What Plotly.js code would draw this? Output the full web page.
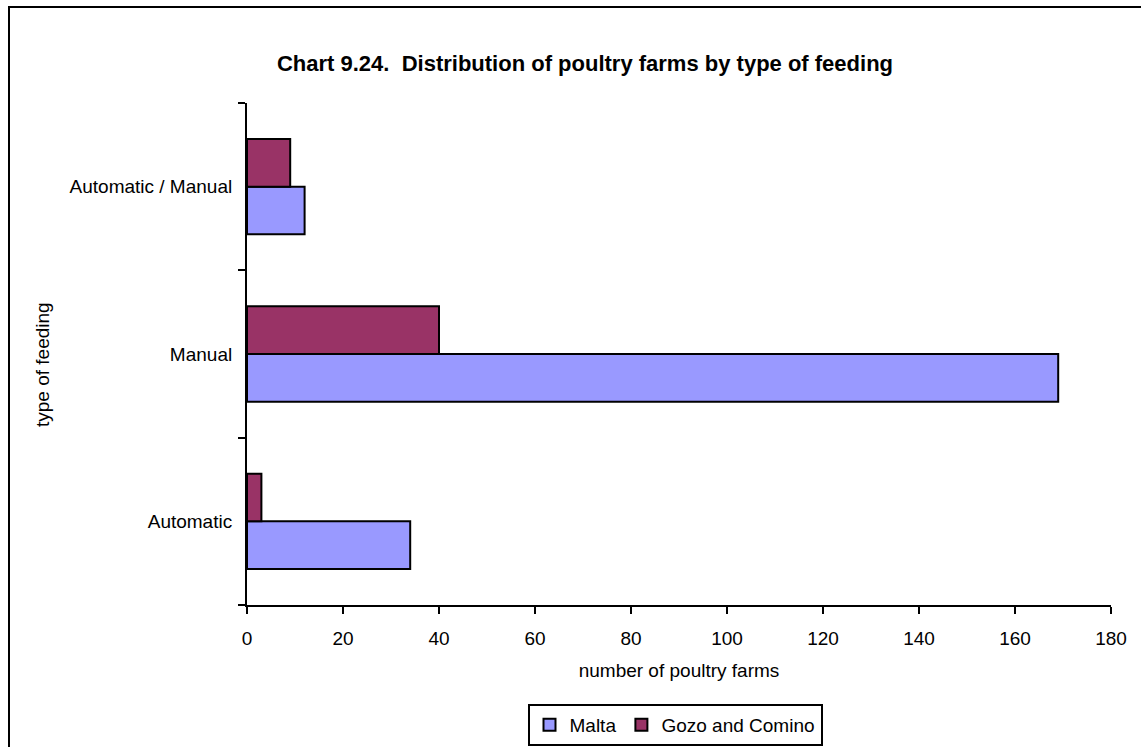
<!DOCTYPE html>
<html>
<head>
<meta charset="utf-8">
<script src="https://cdn.plot.ly/plotly-3.0.1.min.js"></script>
<style>
  html, body { margin: 0; padding: 0; background: #fff; overflow: hidden; }
  #chart { width: 1141px; height: 747px; }
  #frame { position: absolute; left: 8px; top: 6px; width: 1200px; height: 800px;
           border: 2px solid #000; pointer-events: none; box-sizing: border-box; }
</style>
</head>
<body>
<div id="chart"></div>
<div id="frame"></div>
<script>
const categories = ["Automatic", "Manual", "Automatic / Manual"];
const maltaValues = [34, 169, 12];
const gozoValues = [3, 40, 9];
const xTickValues = [0, 20, 40, 60, 80, 100, 120, 140, 160, 180];

const FONT = "Liberation Sans, Arial, sans-serif";
const FS = 19;

const traces = [
  {
    type: "bar", orientation: "h", name: "Malta",
    y: categories, x: maltaValues,
    marker: { color: "#9999FF", line: { color: "#000", width: 2 } }
  },
  {
    type: "bar", orientation: "h", name: "Gozo and Comino",
    y: categories, x: gozoValues,
    marker: { color: "#993366", line: { color: "#000", width: 2 } }
  }
];

const layout = {
  width: 1141, height: 747,
  margin: { l: 247, r: 30, t: 103, b: 142 },
  paper_bgcolor: "#fff", plot_bgcolor: "#fff",
  font: { family: FONT, color: "#000", size: FS },
  barmode: "group",
  bargap: 0.43, bargroupgap: 0,
  showlegend: true,
  title: {
    text: "<b>Chart 9.24.  Distribution of poultry farms by type of feeding</b>",
    font: { family: FONT, size: 22, color: "#000" },
    x: 585 / 1141, xanchor: "center", xref: "container",
    y: 1 - 63 / 747, yanchor: "middle", yref: "container"
  },
  xaxis: {
    range: [0, 180], tickvals: xTickValues, ticktext: xTickValues.map(String),
    showgrid: false, zeroline: false,
    showline: true, linecolor: "#000", linewidth: 2,
    ticks: "outside", ticklen: 7, tickwidth: 2, tickcolor: "#000",
    ticklabelstandoff: 8,
    tickfont: { family: FONT, size: FS, color: "#000" },
    title: { text: "number of poultry farms", font: { family: FONT, size: FS, color: "#000" }, standoff: 16 },
    fixedrange: true
  },
  yaxis: {
    type: "category", categoryorder: "array", categoryarray: categories,
    showgrid: false, zeroline: false,
    showline: true, linecolor: "#000", linewidth: 2,
    ticks: "outside", ticklen: 7, tickwidth: 2, tickcolor: "#000",
    tickson: "boundaries",
    ticklabelstandoff: 9,
    tickfont: { family: FONT, size: FS, color: "#000" },
    fixedrange: true
  },
  annotations: [{
    text: "type of feeding", textangle: -90, showarrow: false,
    xref: "paper", yref: "paper",
    x: (42 - 247) / 864, y: (605 - 365) / 502, xanchor: "center", yanchor: "middle",
    font: { family: FONT, size: FS, color: "#000" }
  }],
  legend: {
    orientation: "h", traceorder: "normal",
    x: 675 / 1141, xref: "container", xanchor: "center",
    y: 1 - 704 / 747, yref: "container", yanchor: "top",
    bordercolor: "#000", borderwidth: 2, bgcolor: "#fff",
    font: { family: FONT, size: FS, color: "#000" },
    itemwidth: 30
  }
};

Plotly.newPlot("chart", traces, layout, { displayModeBar: false, staticPlot: true });
</script>
</body>
</html>
